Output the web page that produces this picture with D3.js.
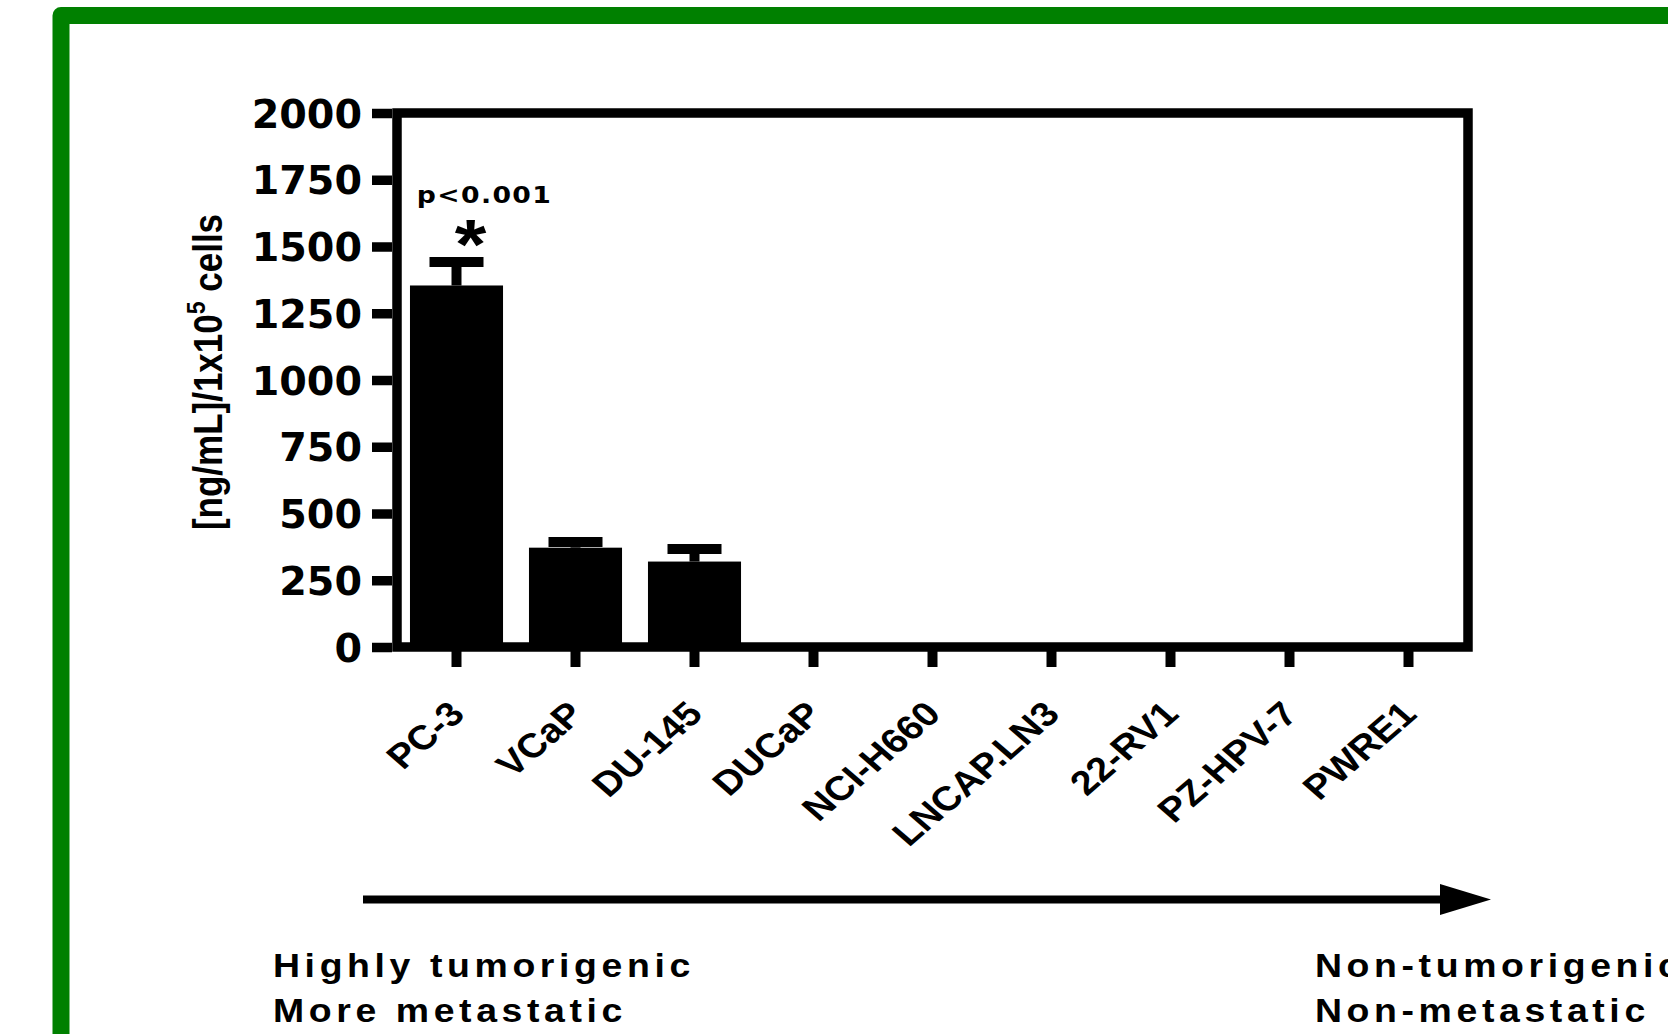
<!DOCTYPE html>
<html><head><meta charset="utf-8">
<script src="https://cdn.jsdelivr.net/npm/d3@7"></script>
<style>
html,body{margin:0;padding:0;background:#fff;}
svg{display:block;}
</style></head>
<body>
<svg id="chart" width="1668" height="1034"></svg>
<script>
const categories = ["PC-3","VCaP","DU-145","DUCaP","NCI-H660","LNCAP.LN3","22-RV1","PZ-HPV-7","PWRE1"];
const values = [1354, 372, 320, 10, 9, 9, 8, 3, 3];
const errors = [88, 21, 47, 0, 0, 0, 0, 0, 0];
const yTicks = [0, 250, 500, 750, 1000, 1250, 1500, 1750, 2000];
const yLabel = "[ng/mL]/1x10";
const yLabelSup = "5";
const yLabelEnd = " cells";
const sigText = "p<0.001";
const leftNotes = ["Highly tumorigenic", "More metastatic"];
const rightNotes = ["Non-tumorigenic", "Non-metastatic"];

const svg = d3.select("#chart");
const SX = 1.16; // horizontal stretch of the original picture

// green frame
svg.append("rect")
  .attr("x", 61).attr("y", 15.5).attr("width", 1700).attr("height", 1100)
  .attr("fill", "none").attr("stroke", "#008000").attr("stroke-width", 17)
  .attr("stroke-linejoin", "round");

const x = d3.scaleBand().domain(categories).range([397, 1468])
  .paddingInner(0.218).paddingOuter(0.109);
const y = d3.scaleLinear().domain([0, 2000]).range([647, 113]);

// bars
svg.append("g").selectAll("rect").data(categories).join("rect")
  .attr("x", d => x(d)).attr("width", x.bandwidth())
  .attr("y", (d,i) => y(values[i]))
  .attr("height", (d,i) => y(0) - y(values[i]))
  .attr("fill", "#000");

// error bars
const eg = svg.append("g");
categories.forEach((c, i) => {
  if (errors[i] <= 0) return;
  const cx = x(c) + x.bandwidth() / 2;
  eg.append("line").attr("x1", cx).attr("x2", cx)
    .attr("y1", y(values[i])).attr("y2", y(values[i] + errors[i]))
    .attr("stroke", "#000").attr("stroke-width", 10);
  eg.append("line").attr("x1", cx - 27).attr("x2", cx + 27)
    .attr("y1", y(values[i] + errors[i])).attr("y2", y(values[i] + errors[i]))
    .attr("stroke", "#000").attr("stroke-width", 10);
});

// plot frame (spines)
svg.append("rect")
  .attr("x", x.range()[0]).attr("y", y(2000))
  .attr("width", x.range()[1] - x.range()[0]).attr("height", y(0) - y(2000))
  .attr("fill", "none").attr("stroke", "#000").attr("stroke-width", 9.5);

// y axis
const yAxis = svg.append("g").attr("transform", "translate(392,0)")
  .call(d3.axisLeft(y).tickValues(yTicks).tickSize(20).tickPadding(10).tickFormat(d3.format("d")));
yAxis.select(".domain").remove();
yAxis.selectAll(".tick line").attr("stroke", "#000").attr("stroke-width", 9.5);
yAxis.selectAll(".tick text")
  .attr("x", 0).attr("dy", null)
  .attr("transform", "translate(-30,14) scale(1.03,1)")
  .attr("font-family", "DejaVu Sans").attr("font-weight", "bold")
  .attr("font-size", 38.5).attr("fill", "#000");

// x axis
const xAxis = svg.append("g").attr("transform", "translate(0,647)")
  .call(d3.axisBottom(x).tickSize(20).tickFormat(""));
xAxis.select(".domain").remove();
xAxis.selectAll(".tick line").attr("stroke", "#000").attr("stroke-width", 10);

// x labels rotated
svg.append("g").selectAll("text").data(categories).join("text")
  .attr("transform", d => `translate(${x(d) + x.bandwidth()/2 + 10},716) scale(${SX},1) rotate(-45)`)
  .attr("text-anchor", "end")
  .attr("font-family", "Liberation Sans, Arial, sans-serif").attr("font-weight", "bold")
  .attr("font-size", 34).attr("fill", "#000")
  .text(d => d);

// y label
const yl = svg.append("text")
  .attr("transform", `translate(222,372) scale(${SX},1) rotate(-90)`)
  .attr("text-anchor", "middle")
  .attr("font-family", "Liberation Sans, Arial, sans-serif").attr("font-weight", "bold")
  .attr("font-size", 35).attr("fill", "#000");
yl.append("tspan").text(yLabel);
yl.append("tspan").attr("dy", -15).attr("font-size", 23).text(yLabelSup);
yl.append("tspan").attr("dy", 15).text(yLabelEnd);

// significance
const pcx = x(categories[0]) + x.bandwidth() / 2;
svg.append("text")
  .attr("transform", `translate(${pcx + 28},203) scale(${SX},1)`)
  .attr("text-anchor", "middle")
  .attr("font-family", "DejaVu Sans").attr("font-weight", "bold")
  .attr("font-size", 23).attr("letter-spacing", 1.2).attr("fill", "#000")
  .text(sigText);
svg.append("text")
  .attr("transform", `translate(${pcx + 14},269) scale(${SX},1)`)
  .attr("text-anchor", "middle")
  .attr("font-family", "Liberation Sans, Arial, sans-serif").attr("font-weight", "bold")
  .attr("font-size", 70).attr("fill", "#000")
  .text("*");

// arrow
svg.append("line").attr("x1", 363).attr("x2", 1442).attr("y1", 899.5).attr("y2", 899.5)
  .attr("stroke", "#000").attr("stroke-width", 8);
svg.append("path").attr("d", "M1440,884 L1491,899.5 L1440,915 Z").attr("fill", "#000");

// notes
function notes(arr, x0) {
  arr.forEach((t, i) => {
    svg.append("text")
      .attr("transform", `translate(${x0},${977 + i * 45}) scale(1.1,1)`)
      .attr("font-family", "Liberation Sans, Arial, sans-serif").attr("font-weight", "bold")
      .attr("font-size", 34).attr("letter-spacing", 4.2).attr("fill", "#000")
      .text(t);
  });
}
notes(leftNotes, 273);
notes(rightNotes, 1315);
</script>
</body></html>
